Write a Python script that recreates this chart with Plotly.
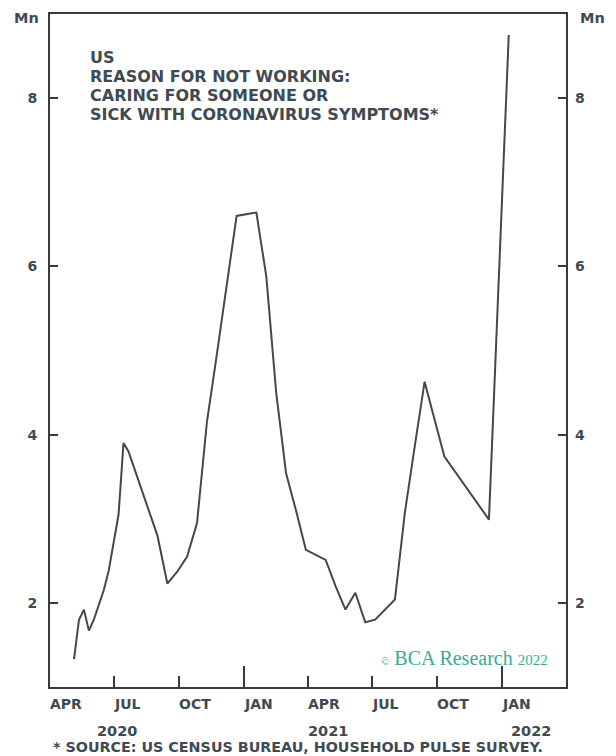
import pandas as pd
import plotly.graph_objects as go

# Survey end dates of each Household Pulse Survey round
dates = [
    "2020-05-05", "2020-05-12", "2020-05-19", "2020-05-26", "2020-06-02", "2020-06-09",
    "2020-06-16", "2020-06-23", "2020-06-30", "2020-07-07", "2020-07-14", "2020-07-21",
    "2020-08-31", "2020-09-14", "2020-09-28", "2020-10-12", "2020-10-26",
    "2020-11-09", "2020-11-23", "2020-12-07", "2020-12-21", "2021-01-18", "2021-02-01",
    "2021-02-15", "2021-03-01", "2021-03-15", "2021-03-29",
    "2021-04-26", "2021-05-10", "2021-05-24", "2021-06-07", "2021-06-21", "2021-07-05",
    "2021-08-02", "2021-08-16", "2021-08-30", "2021-09-13", "2021-09-27", "2021-10-11",
    "2021-12-13", "2022-01-10",
]
# Millions not working: caring for someone or sick with coronavirus symptoms
not_working_mn = [
    1.33, 1.80, 1.92, 1.67, 1.80, 1.97,
    2.15, 2.38, 2.72, 3.05, 3.90, 3.80,
    2.80, 2.23, 2.37, 2.55, 2.95,
    4.15, 4.95, 5.80, 6.60, 6.64, 5.88,
    4.50, 3.54, 3.10, 2.63,
    2.51, 2.20, 1.92, 2.12, 1.77, 1.80,
    2.04, 3.07, 3.86, 4.63, 4.18, 3.74,
    2.99, 8.75,
]

quarter_ticks = ["2020-04-01", "2020-07-01", "2020-10-01", "2021-01-01",
                 "2021-04-01", "2021-07-01", "2021-10-01", "2022-01-01", "2022-04-01"]
quarter_labels = ["APR", "JUL", "OCT", "JAN", "APR", "JUL", "OCT", "JAN"]
year_ticks = ["2021-01-01", "2022-01-01"]
year_labels = ["2020", "2021", "2022"]
y_ticks = [2, 4, 6, 8]
title_lines = ["US", "REASON FOR NOT WORKING:", "CARING FOR SOMEONE OR",
               "SICK WITH CORONAVIRUS SYMPTOMS*"]

# time axis expressed as days since the start of the window
START, END = pd.Timestamp("2020-04-01"), pd.Timestamp("2022-04-01")


def day_index(values):
    return [int((pd.Timestamp(v) - START).days) for v in values]


x_days = day_index(dates)
quarter_days = day_index(quarter_ticks)
year_days = day_index(year_ticks)
x_range = [0, (END - START).days]
y_range = [1, 9]

FONT = "DejaVu Sans"
TXT = "#3f4a52"
AX = "#3a3a3a"
CLEAR = "rgba(0,0,0,0)"

W, H = 616, 756
L, R, T, B = 50, 50, 14, 69
PW, PH = W - L - R, H - T - B


def xp(px):
    return (px - L) / PW


def yp(py):
    return (H - B - py) / PH


fig = go.Figure()
fig.add_trace(go.Scatter(
    x=x_days, y=not_working_mn, mode="lines",
    line=dict(color="#474747", width=2), hoverinfo="skip", showlegend=False,
))
# transparent copy on the secondary axes (right-hand scale, taller year ticks)
fig.add_trace(go.Scatter(
    x=x_days, y=not_working_mn, mode="lines", xaxis="x2", yaxis="y2",
    line=dict(color=CLEAR, width=0), hoverinfo="skip", showlegend=False,
))

yaxis_common = dict(
    range=y_range, tickmode="array", tickvals=y_ticks,
    ticks="inside", ticklen=8, tickwidth=2, tickcolor=AX,
    showgrid=False, zeroline=False,
    tickfont=dict(family=FONT, size=14, color=TXT, weight="bold"),
    ticklabelstandoff=8,
)

fig.update_layout(
    width=W, height=H,
    margin=dict(l=L, r=R, t=T, b=B),
    paper_bgcolor="white", plot_bgcolor="white",
    # quarterly ticks pointing up from the bottom edge
    xaxis=dict(
        type="linear", range=x_range,
        showline=True, linecolor=AX, linewidth=2, mirror=True,
        showgrid=False, zeroline=False,
        tickmode="array", tickvals=quarter_days, showticklabels=False,
        ticks="inside", ticklen=11, tickwidth=2, tickcolor=AX,
    ),
    # longer ticks marking the start of each year
    xaxis2=dict(
        type="linear", range=x_range, overlaying="x", side="bottom", anchor="y2",
        showline=False, showgrid=False, zeroline=False,
        tickmode="array", tickvals=year_days, showticklabels=False,
        ticks="inside", ticklen=21, tickwidth=2, tickcolor=AX,
    ),
    yaxis=dict(showline=True, linecolor=AX, linewidth=2, mirror=True, side="left",
               **yaxis_common),
    yaxis2=dict(overlaying="y", side="right", showline=False, anchor="x2",
                **yaxis_common),
)

ann = []
# unit labels
ann.append(dict(text="<b>Mn</b>", x=xp(26), y=yp(18), xanchor="center"))
ann.append(dict(text="<b>Mn</b>", x=xp(592), y=yp(18), xanchor="center"))
# chart heading inside the frame
for line, cy in zip(title_lines, [58, 76.5, 95.5, 114]):
    ann.append(dict(text="<b>" + line + "</b>", x=xp(88), y=yp(cy),
                    xanchor="left", font=dict(family=FONT, size=16, color=TXT)))
# quarter labels, left-aligned at their ticks
for d, lab in zip(quarter_days, quarter_labels):
    ann.append(dict(text="<b>" + lab + "</b>", x=d, xref="x", y=yp(704),
                    xanchor="left", xshift=-2,
                    font=dict(family=FONT, size=14, color=TXT)))
# year labels
for lab, cx in zip(year_labels, [117, 328, 531]):
    ann.append(dict(text="<b>" + lab + "</b>", x=xp(cx), y=yp(731),
                    xanchor="center", font=dict(family=FONT, size=14.5, color=TXT)))
# source note
ann.append(dict(text="<b>* SOURCE: US CENSUS BUREAU, HOUSEHOLD PULSE SURVEY.</b>",
                x=xp(51), y=yp(747), xanchor="left",
                font=dict(family=FONT, size=14.3, color=TXT)))
# copyright
ann.append(dict(text='<span style="font-size:11px">©</span> BCA Research '
                     '<span style="font-size:15px">2022</span>',
                x=xp(550), y=yp(658), xanchor="right",
                font=dict(family="Liberation Serif", size=20, color="#3aab95")))

for a in ann:
    a.setdefault("xref", "paper")
    a.setdefault("yref", "paper")
    a.setdefault("yanchor", "middle")
    a.setdefault("showarrow", False)
    a.setdefault("font", dict(family=FONT, size=14.5, color=TXT))
fig.update_layout(annotations=ann)

fig.write_html("out.html")
